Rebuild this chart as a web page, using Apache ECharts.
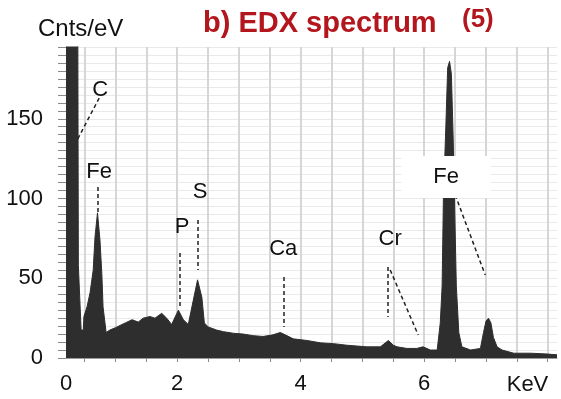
<!DOCTYPE html>
<html><head><meta charset="utf-8">
<script src="https://cdn.jsdelivr.net/npm/echarts@6/dist/echarts.min.js"></script>
<style>html,body{margin:0;padding:0;background:#fff}#c{width:561px;height:399px}</style>
</head><body><div id="c"></div>
<script>
// Spectrum (energy in keV, counts per eV)
const energyKeV = [0.20,0.38,0.40,0.43,0.445,0.48,0.49,0.54,0.59,0.64,0.67,0.71,0.75,0.78,0.80,0.85,0.91,1.00,1.16,1.27,1.37,1.45,1.56,1.64,1.75,1.83,1.91,2.02,2.10,2.18,2.26,2.33,2.40,2.44,2.50,2.64,2.75,2.91,3.07,3.23,3.39,3.55,3.67,3.75,3.88,4.10,4.32,4.53,4.75,5.07,5.29,5.42,5.50,5.56,5.72,5.88,5.98,6.10,6.21,6.26,6.29,6.31,6.35,6.38,6.41,6.44,6.47,6.49,6.52,6.56,6.61,6.75,6.91,6.96,7.00,7.04,7.08,7.12,7.18,7.26,7.45,7.72,7.99,8.15];
const counts    = [400,400,58,58,17.5,17.5,26,32,41,55,76,91,74,53,32,16,17.5,19,22,24,22.5,25,26,25,28,25,21,30,24,21,36,49,38,22,19.5,17.5,16.5,15.5,15,14,13.5,14.5,16,14.5,12,11,9.5,9,8,7,7,11,8,7,6,6,7,5,5,22,45,99,145,182,186,178,136,99,45,16,7,5,6,16,23,25,22,13,7,5,3,3,2.5,2];

const xTickValues  = [0.5,1,1.5,2,2.5,3,3.5,4,4.5,5,5.5,6,6.5,7,7.5,8];
const xLabelValues = [0.2,2,4,6];
const xLabelTexts  = ['0','2','4','6'];
const yLabelStep   = 50;

// Element annotations (data units): label anchor and dashed leader lines
const peakNames    = ['C','Fe','P','S','Ca','Cr','Fe'];
const peakLabelPos = [[0.753,168],[0.737,116.6],[2.081,82.1],[2.372,104],[3.717,68.3],[5.449,74.6],[6.356,113.5]];
const leaderLines  = [
  [[0.737,163],[0.381,136.7]],
  [[0.716,107.2],[0.716,90.9]],
  [[2.036,65.8],[2.036,32]],
  [[2.340,86.5],[2.340,55.2]],
  [[3.733,50.8],[3.733,19.4]],
  [[5.417,57.1],[5.417,25.7]],
  [[5.449,55.2],[5.903,14.4]],
  [[6.502,102.2],[6.988,52]]
];

const font = '"Liberation Sans", Arial, sans-serif';
const chart = echarts.init(document.getElementById('c'), null, {renderer:'canvas'});
chart.setOption({
  animation:false,
  backgroundColor:'#fff',
  title:[
    {text:'b) EDX spectrum', left:203, top:9, padding:0,
     textStyle:{fontFamily:font, fontSize:29, fontWeight:'bold', color:'#b3161c'}},
    {text:'(5)', left:462, top:7, padding:0,
     textStyle:{fontFamily:font, fontSize:26, fontWeight:'bold', color:'#b3161c'}},
    {text:'Cnts/eV', left:38, top:17, padding:0,
     textStyle:{fontFamily:font, fontSize:24, fontWeight:'normal', color:'#111'}}
  ],
  grid:{left:66, right:4, top:47, bottom:41, containLabel:false},
  xAxis:{
    type:'value', min:0.2, max:8.15,
    name:'KeV', nameLocation:'end', nameGap:-29.5,
    nameTextStyle:{fontFamily:font, fontSize:22, color:'#111', align:'center', verticalAlign:'top', padding:[16,0,0,0]},
    axisLine:{show:true, lineStyle:{color:'#9a9a9a', width:1}},
    axisTick:{show:true, customValues:xTickValues, length:4, lineStyle:{color:'#8a8a8a'}},
    axisLabel:{customValues:xLabelValues, margin:15, fontFamily:font, fontSize:22, color:'#111',
      formatter:v=>{const i=xLabelValues.indexOf(v); return i>=0?xLabelTexts[i]:'';}},
    splitLine:{show:true, lineStyle:{color:'#d6d6d6', width:2}}
  },
  yAxis:{
    type:'value', min:0, max:195, interval:5,
    axisLine:{show:true, lineStyle:{color:'#9a9a9a'}},
    axisTick:{show:true, length:8, lineStyle:{color:'#8a8a8a'}},
    axisLabel:{margin:23, fontFamily:font, fontSize:22, color:'#111',
      formatter:v=> (v % yLabelStep === 0 ? String(v) : '')},
    splitLine:{show:true, lineStyle:{color:'#e9e9e9', width:1}}
  },
  series:[{
    type:'line',
    data:energyKeV.map((e,i)=>[e,counts[i]]),
    showSymbol:false, symbol:'none', clip:true,
    lineStyle:{color:'#2e2e2e', width:1},
    areaStyle:{color:'#2e2e2e', opacity:1},
    markLine:{
      silent:true, symbol:['none','none'], label:{show:false},
      lineStyle:{color:'#222', width:1.5, type:[4,3]},
      data:leaderLines.map(l=>[{coord:l[0]},{coord:l[1]}])
    },
    markPoint:{
      silent:true, symbol:'circle', symbolSize:1, itemStyle:{color:'rgba(0,0,0,0)'},
      data:peakNames.map((n,i)=>({
        coord:peakLabelPos[i],
        label:Object.assign({show:true, position:'inside', formatter:n, fontFamily:font, fontSize:22, color:'#111'},
          i===6?{backgroundColor:'#fff', padding:[10,32]}:{})
      }))
    }
  }]
});
</script></body></html>
